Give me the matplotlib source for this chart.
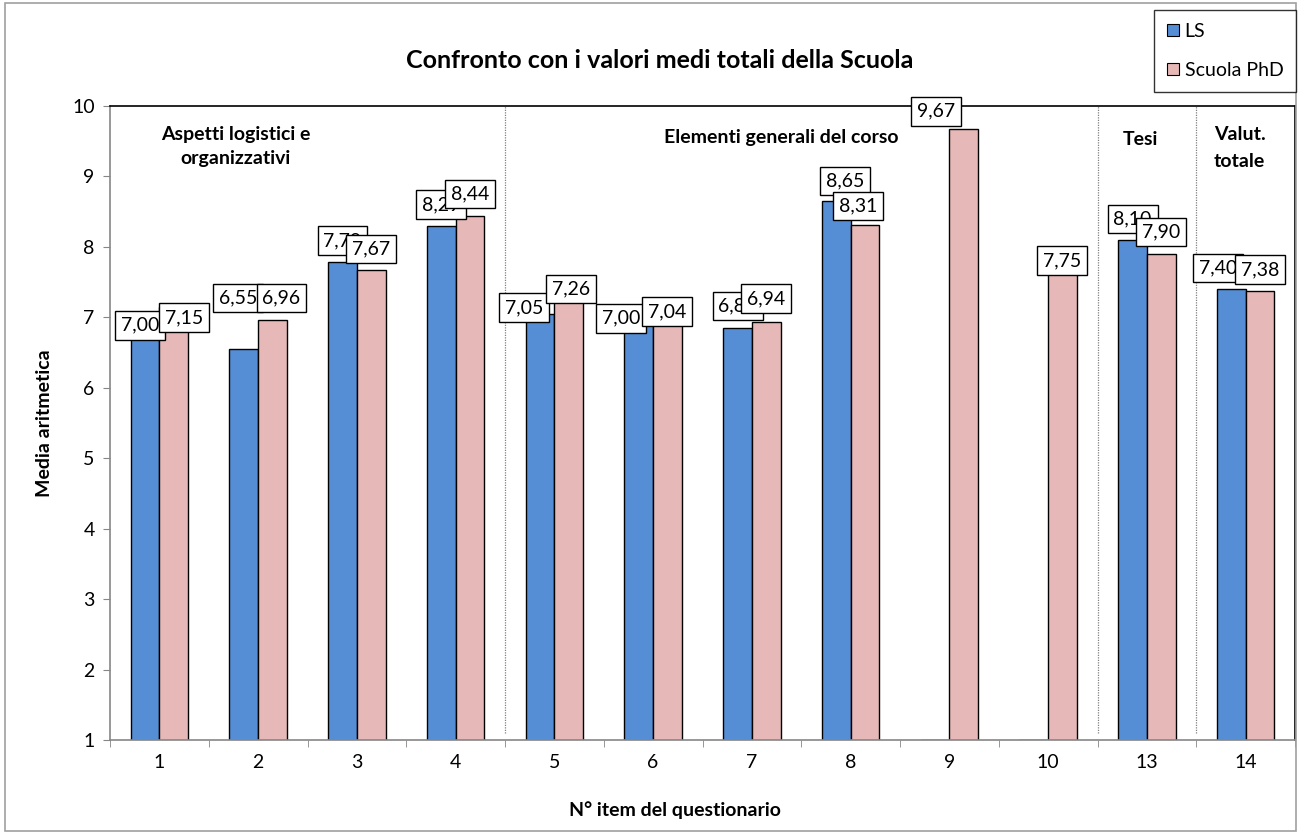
import numpy as np
import matplotlib
matplotlib.use("Agg")
import matplotlib.pyplot as plt
from matplotlib.patches import Patch, Rectangle

items = ["1", "2", "3", "4", "5", "6", "7", "8", "9", "10", "13", "14"]
ls_vals = [7.00, 6.55, 7.79, 8.29, 7.05, 7.00, 6.85, 8.65, 1.0, 1.0, 8.10, 7.40]
phd_vals = [7.15, 6.96, 7.67, 8.44, 7.26, 7.04, 6.94, 8.31, 9.67, 7.75, 7.90, 7.38]
series_names = ["LS", "Scuola PhD"]
group_titles = ["Aspetti logistici e\norganizzativi", "Elementi generali del corso", "Tesi", "Valut.\ntotale"]

plt.rcParams['font.family'] = ['Lato', 'DejaVu Sans']

W, H = 1301, 834
fig = plt.figure(figsize=(W / 100, H / 100), dpi=100)
fig.patches.append(Rectangle((0.004, 0.004), 0.992, 0.992, transform=fig.transFigure,
                             fill=False, edgecolor="#A0A0A0", linewidth=1.2))

ax = fig.add_axes([110 / W, 1 - 740 / H, (1295 - 110) / W, (740 - 106) / H])
x = np.arange(len(items))
bw = 0.29
c_ls = "#558ED5"
c_phd = "#E6B9B8"
ax.bar(x - bw / 2, ls_vals, bw, color=c_ls, edgecolor="black", linewidth=1.0, zorder=2)
ax.bar(x + bw / 2, phd_vals, bw, color=c_phd, edgecolor="black", linewidth=1.0, zorder=2)

ax.set_ylim(1, 10)
ax.set_xlim(-0.5, len(items) - 0.5)
ax.set_yticks(range(1, 11))
ax.set_xticks(x)
ax.set_xticklabels(items)
ax.set_xticks(np.arange(-0.5, len(items), 1), minor=True)
ax.tick_params(axis='x', which='major', length=0, labelsize=14, pad=10)
ax.tick_params(axis='x', which='minor', length=5, color="#868686", direction='out')
ax.tick_params(axis='y', length=5, color="#868686", labelsize=14, direction='out', pad=6)
for s in ["left", "bottom"]:
    ax.spines[s].set_color("#868686")
    ax.spines[s].set_linewidth(1.2)
for s in ["top", "right"]:
    ax.spines[s].set_color("black")
    ax.spines[s].set_linewidth(1.2)

# separators
for b in [4, 10, 11]:
    ax.plot([b - 0.5, b - 0.5], [1.1, 10], color="#808080", linestyle=(0, (1, 1)), linewidth=0.9, zorder=1)

# data labels (label nudges in pixels: dx right, dy above bar top)
nudge_ls = [(-5, -8), (-6, 51), (0, 21), (0, 22), (-16, 6), (-18, -1), (0, 22), (9, 20), (0, 0), (0, 0), (0, 21), (-13, 21)]
nudge_phd = [(10, -11), (9, 22), (0, 21), (0, 22), (2, 10), (0, 3), (0, 23), (-7, 19), (-28, 18), (0, 4), (0, 22), (0, 21)]
px2pt = 72 / 100

def lab(xc, v, d):
    ax.annotate(f"{v:.2f}".replace(".", ","), (xc, v), xytext=(d[0] * px2pt, d[1] * px2pt),
                textcoords="offset points", ha="center", va="center", fontsize=14, zorder=5,
                bbox=dict(boxstyle="square,pad=0.3", fc="white", ec="black", lw=1.0))

for i in range(len(items)):
    if ls_vals[i] > 1:
        lab(x[i] - bw / 2, ls_vals[i], nudge_ls[i])
for i in range(len(items)):
    lab(x[i] + bw / 2, phd_vals[i], nudge_phd[i])

# group titles
gt_pos = [(0.77, 9.42, 1.5), (6.3, 9.55, 1.2), (9.93, 9.52, 1.2), (10.94, 9.40, 1.7)]
for (gx, gy, ls), t in zip(gt_pos, group_titles):
    ax.text(gx, gy, t, ha="center", va="center", fontsize=14, fontweight="bold",
            linespacing=ls, zorder=4)

ax.set_ylabel("Media aritmetica", fontsize=14, fontweight="bold", labelpad=14)
fig.text(675 / W, 1 - 810 / H, "N° item del questionario", ha="center", va="center",
         fontsize=14, fontweight="bold")
fig.text(660 / W, 1 - 60 / H, "Confronto con i valori medi totali della Scuola", ha="center",
         va="center", fontsize=18, fontweight="bold")

handles = [Patch(facecolor=c_ls, edgecolor="black", linewidth=0.8),
           Patch(facecolor=c_phd, edgecolor="black", linewidth=0.8)]
leg = fig.legend(handles, series_names, loc="upper right", bbox_to_anchor=(1296 / W, 1 - 10 / H),
                 fontsize=14, frameon=True, fancybox=False, edgecolor="black",
                 handlelength=0.6, handleheight=0.6, handletextpad=0.3, labelspacing=1.15,
                 borderpad=0.65, borderaxespad=0)
leg.get_frame().set_linewidth(1.0)

fig.savefig("out.png", dpi=100)
